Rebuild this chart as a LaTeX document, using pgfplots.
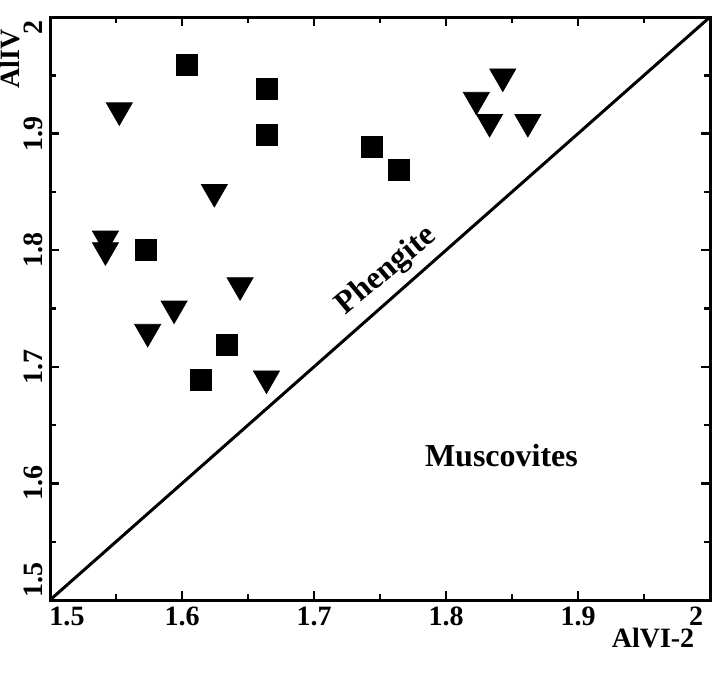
\documentclass[border=0pt]{standalone}
\usepackage{pgfplots}
\pgfplotsset{compat=1.18}
\usepackage{fontspec}
\setmainfont{Liberation Serif}
\begin{document}
\begin{tikzpicture}
\begin{axis}[
  scale only axis, width=330pt, height=291.5pt,
  xmin=1.5, xmax=2, ymin=1.5, ymax=2,
  xtick={1.5,1.6,1.7,1.8,1.9,2},
  xticklabels={\hspace*{17pt}1.5,1.6,1.7,1.8,1.9,2\hspace*{14pt}},
  ytick={1.5,1.6,1.7,1.8,1.9,2},
  yticklabels={\hspace*{20pt}1.5,1.6,1.7,1.8,1.9,2\hspace*{10pt}},
  minor tick num=1,
  tick align=inside,
  major tick length=4.5pt, minor tick length=3pt,
  tick style={line width=1.2pt, black},
  axis line style={line width=1.5pt},
  ticklabel style={font=\fontsize{14}{14}\selectfont\bfseries},
  yticklabel style={rotate=90, anchor=south},
  xticklabel style={anchor=north},
  clip=false,
]
\addplot[black, line width=1.5pt] coordinates {(1.5,1.5) (2,2)};
\addplot[only marks, mark=square*, mark size=5.25pt, black] coordinates {
(1.604,1.959) (1.664,1.938) (1.664,1.899) (1.573,1.800)
(1.634,1.719) (1.614,1.689) (1.744,1.889) (1.764,1.869)};
\addplot[only marks, mark=triangle*, mark options={rotate=180}, mark size=7.5pt, black] coordinates {
(1.5525,1.920) (1.542,1.810) (1.542,1.800) (1.6245,1.850)
(1.644,1.770) (1.594,1.750) (1.574,1.730) (1.664,1.690)
(1.843,1.949) (1.823,1.929) (1.833,1.910) (1.862,1.910)};
\node[rotate=40, font=\fontsize{16}{16}\selectfont\bfseries] at (axis cs:1.755,1.782) {Phengite};
\node[font=\fontsize{16}{16}\selectfont\bfseries] at (axis cs:1.842,1.624) {Muscovites};
\node[font=\fontsize{14}{14}\selectfont\bfseries] at ([xshift=-28.5pt,yshift=-19pt]rel axis cs:1,0) {AlVI-2};
\node[rotate=90, font=\fontsize{14}{14}\selectfont\bfseries] at ([xshift=-20pt,yshift=-21pt]rel axis cs:0,1) {AlIV};
\end{axis}
\pgfresetboundingbox
\path ([shift={(-25pt,-37.5pt)}]current axis.south west) rectangle ([shift={(7.5pt,8.5pt)}]current axis.north east);
\end{tikzpicture}
\end{document}
